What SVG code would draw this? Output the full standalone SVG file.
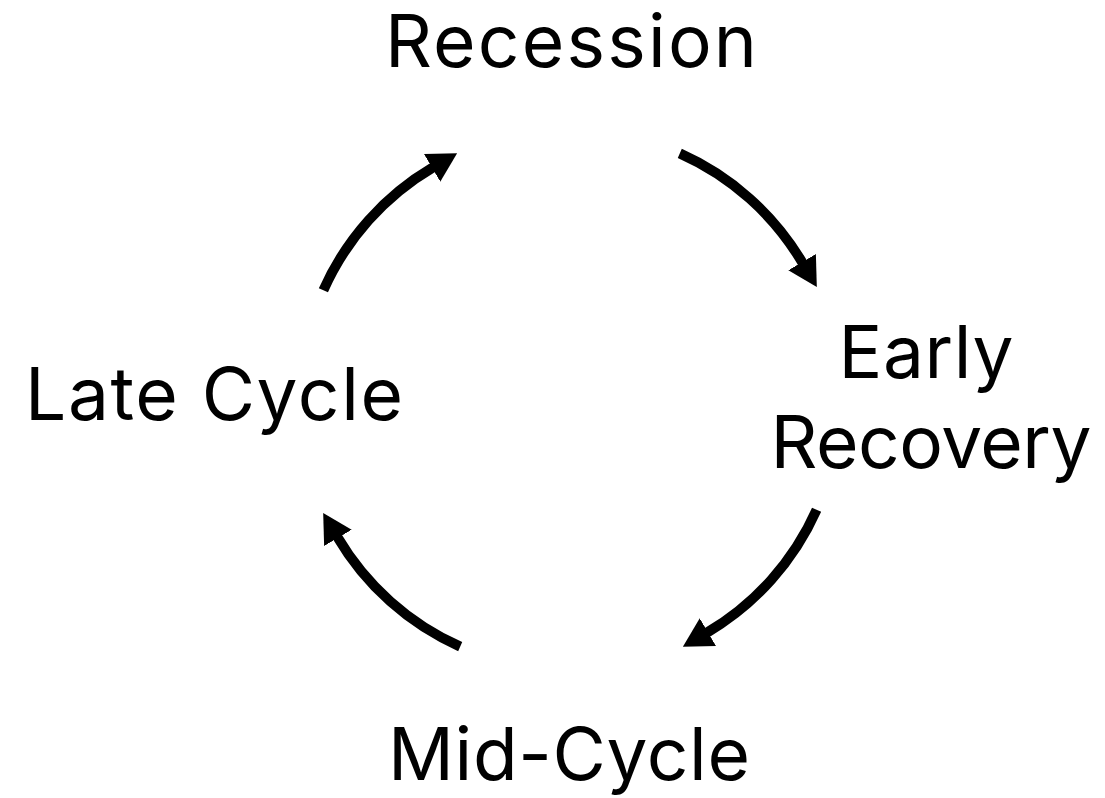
<svg xmlns="http://www.w3.org/2000/svg" width="1105" height="798" viewBox="0 0 1105 798">
  <style>
    .label { font-family: Inter, "Liberation Sans", sans-serif; font-size: 73px; fill: #000; text-anchor: middle; }
    .arc { fill: none; stroke: #000; stroke-width: 10; stroke-linecap: butt; }
  </style>
  <defs>
    <marker id="head" markerUnits="userSpaceOnUse" viewBox="0 -17 31 34" markerWidth="31" markerHeight="34" refX="1" refY="0" orient="auto">
      <path d="M0,-16 L29,0 L0,16 z" fill="#000"/>
    </marker>
  </defs>
  <rect width="1105" height="798" fill="#fff"/>

  <!-- phases of the cycle -->
  <g id="recession"><text class="label" x="571" y="67" textLength="372" lengthAdjust="spacing">Recession</text></g>
  <g id="early-recovery">
    <text class="label" x="926" y="378" textLength="175" lengthAdjust="spacing">Early</text>
    <text class="label" x="931" y="468" textLength="321" lengthAdjust="spacing">Recovery</text>
  </g>
  <g id="mid-cycle"><text class="label" x="569" y="780" textLength="362" lengthAdjust="spacing">Mid-Cycle</text></g>
  <g id="late-cycle"><text class="label" x="214" y="420" textLength="378" lengthAdjust="spacing">Late Cycle</text></g>

  <!-- clockwise arcs on a circle centred at (570,400), r=270 -->
  <g id="connectors">
    <path class="arc" d="M679.8,153.4 A270,270 0 0 1 802.6,263.0" marker-end="url(#head)"/>
    <path class="arc" d="M816.6,509.8 A270,270 0 0 1 707.0,632.6" marker-end="url(#head)"/>
    <path class="arc" d="M460.2,646.6 A270,270 0 0 1 337.4,537.0" marker-end="url(#head)"/>
    <path class="arc" d="M323.4,290.2 A270,270 0 0 1 433.0,167.4" marker-end="url(#head)"/>
  </g>
</svg>
